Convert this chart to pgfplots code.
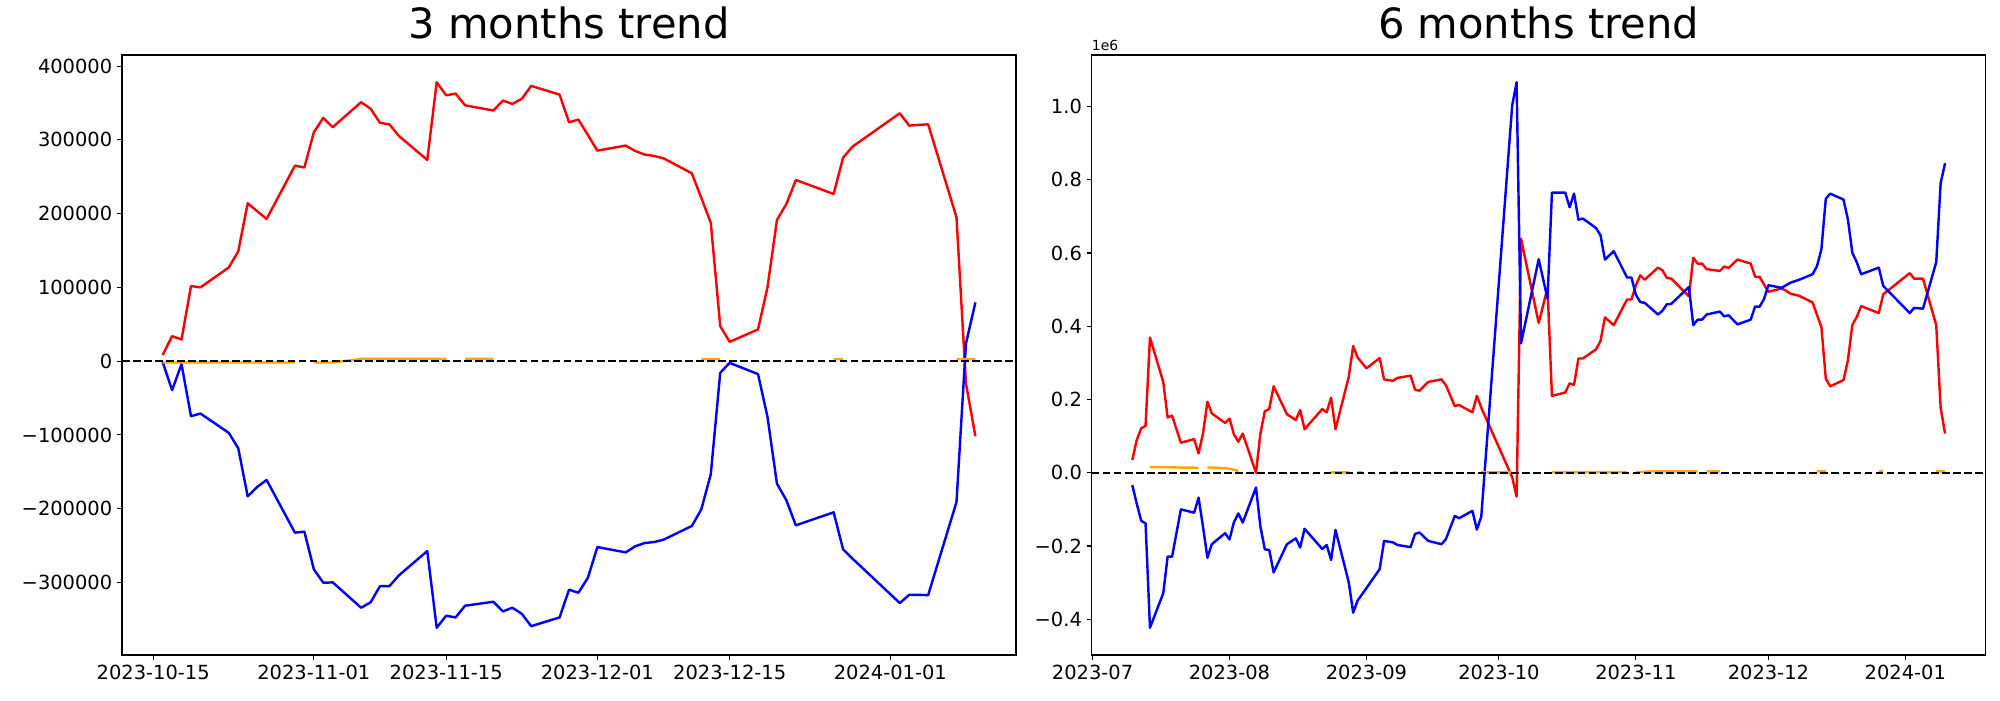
\documentclass[border=0pt]{standalone}
\usepackage{pgfplots}
\pgfplotsset{compat=1.18}
\usepackage{pgfplotstable}
\usepackage{fontspec}
\setmainfont{DejaVu Sans}

\pgfplotstableread{
d v
1 8100
2 33900
3 29400
4 101800
5 100000
8 127000
9 148800
10 214000
12 192700
15 265000
16 262500
17 310300
18 329700
19 317100
22 351000
23 342300
24 323000
25 321000
26 305300
29 272700
30 378000
31 360400
32 362700
33 346800
36 339700
37 353200
38 348700
39 355500
40 373100
43 361300
44 323900
45 327400
47 285400
50 292200
51 285000
52 280000
53 278200
54 275000
57 254600
59 187700
60 47500
61 26200
64 43000
65 100000
66 191300
67 213000
68 245600
72 226600
73 275800
74 290800
79 336000
80 319300
82 321100
85 195000
86 -30300
87 -101800
}\leftred

\pgfplotstableread{
d v
1 -1000
2 -39300
3 -4100
4 -74600
5 -71000
8 -97200
9 -118000
10 -183200
11 -170500
12 -161000
15 -232500
16 -231100
17 -282200
18 -300300
19 -299900
22 -334200
23 -327000
24 -304900
25 -304900
26 -290400
29 -257400
30 -361300
31 -345100
32 -347400
33 -331500
36 -326100
37 -339200
38 -334200
39 -342400
40 -359200
43 -347400
44 -309800
45 -313900
46 -293500
47 -252000
50 -259200
51 -251000
52 -246500
53 -245200
54 -242000
57 -223400
58 -200800
59 -153300
60 -15800
61 -2300
64 -17600
65 -75500
66 -166000
67 -188600
68 -222500
72 -204900
73 -255100
74 -267700
79 -327900
80 -316600
82 -317100
85 -190900
86 24000
87 79600
}\leftblue

\pgfplotstableread{
d v
1 -1800
2 -1800
3 -1800
4 -1800
5 -1800
8 -1800
9 -1800
10 -1800
11 -1800
12 -1800
15 -1800
16 nan
17 -1800
18 -1800
19 -1800
22 3000
23 3000
24 3000
25 3000
26 3000
29 3000
30 3000
31 3000
32 nan
33 3000
36 3000
37 nan
58 2700
59 2700
60 2700
61 nan
72 2700
73 2700
74 nan
85 2700
86 2700
87 2700
}\leftorange

\pgfplotstableread{
d v
9 0.035
10 0.089
11 0.121
12 0.128
13 0.369
16 0.248
17 0.151
18 0.156
20 0.082
23 0.092
24 0.053
25 0.107
26 0.194
27 0.162
30 0.136
31 0.148
32 0.105
33 0.085
34 0.107
37 0.000
38 0.107
39 0.168
40 0.174
41 0.236
44 0.160
46 0.144
47 0.171
48 0.119
52 0.174
53 0.165
54 0.205
55 0.119
58 0.262
59 0.346
60 0.315
62 0.285
65 0.313
66 0.255
68 0.251
69 0.259
72 0.265
73 0.227
74 0.224
76 0.248
79 0.255
80 0.239
82 0.182
83 0.185
86 0.165
87 0.210
88 0.178
95 -0.012
96 -0.065
97 0.639
101 0.409
103 0.505
104 0.210
107 0.219
108 0.244
109 0.240
110 0.312
111 0.312
114 0.337
115 0.360
116 0.424
118 0.403
121 0.473
122 0.473
123 0.512
124 0.539
125 0.527
128 0.560
129 0.553
130 0.532
131 0.530
135 0.482
136 0.587
137 0.571
138 0.571
139 0.556
142 0.551
143 0.563
144 0.559
146 0.582
149 0.571
150 0.535
151 0.535
152 0.514
153 0.494
156 0.503
157 0.497
158 0.489
160 0.483
163 0.465
165 0.398
166 0.257
167 0.236
170 0.253
171 0.307
172 0.403
173 0.425
174 0.455
178 0.436
179 0.487
185 0.545
186 0.530
188 0.530
191 0.403
192 0.177
193 0.107
}\rightred

\pgfplotstableread{
d v
9 -0.034
10 -0.084
11 -0.131
12 -0.138
13 -0.423
16 -0.329
17 -0.229
18 -0.229
20 -0.100
23 -0.109
24 -0.068
25 -0.147
26 -0.232
27 -0.195
30 -0.165
31 -0.182
32 -0.135
33 -0.111
34 -0.136
37 -0.040
38 -0.147
39 -0.209
40 -0.211
41 -0.272
44 -0.195
46 -0.179
47 -0.204
48 -0.153
52 -0.208
53 -0.197
54 -0.238
55 -0.156
58 -0.299
59 -0.382
60 -0.349
62 -0.315
65 -0.263
66 -0.186
68 -0.190
69 -0.197
72 -0.203
73 -0.167
74 -0.163
76 -0.186
79 -0.195
80 -0.181
82 -0.118
83 -0.124
86 -0.104
87 -0.155
88 -0.120
95 1.003
96 1.066
97 0.353
101 0.583
103 0.475
104 0.765
107 0.765
108 0.725
109 0.762
110 0.691
111 0.694
114 0.668
115 0.648
116 0.582
118 0.605
121 0.533
122 0.533
123 0.486
124 0.466
125 0.464
128 0.432
129 0.442
130 0.460
131 0.461
135 0.507
136 0.403
137 0.418
138 0.418
139 0.432
142 0.440
143 0.427
144 0.430
146 0.405
149 0.418
150 0.454
151 0.453
152 0.474
153 0.512
156 0.505
157 0.512
158 0.519
160 0.527
163 0.542
164 0.564
165 0.610
166 0.748
167 0.762
170 0.746
171 0.692
172 0.601
173 0.575
174 0.542
178 0.560
179 0.510
185 0.436
186 0.450
188 0.448
191 0.575
192 0.791
193 0.845
}\rightblue

\pgfplotstableread{
d v
13 0.0155
16 0.0152
17 0.015
18 0.015
19 0.0145
20 0.0142
23 0.0138
24 0.0136
25 nan
26 0.0145
27 0.014
30 0.0125
31 0.011
32 0.008
33 0.005
34 nan
54 0.001
55 0.001
58 0.001
59 nan
60 0.001
61 0.001
62 nan
68 0.001
69 0.001
72 nan
88 0.001
95 0.001
96 nan
104 0.002
107 0.002
108 0.002
109 0.002
110 0.002
111 0.002
114 0.002
115 0.002
116 0.002
118 0.002
121 0.002
122 nan
123 0.002
124 0.002
125 0.003
128 0.004
129 0.004
130 0.004
131 0.004
135 0.004
136 0.004
137 0.004
138 nan
139 0.004
142 0.004
143 nan
164 0.004
165 0.004
166 0.004
167 nan
178 0.004
179 0.004
180 nan
191 0.004
192 0.004
193 0.004
}\rightorange

\definecolor{mplorange}{RGB}{255,165,0}

\pgfplotsset{
  mystyle/.style={
    scale only axis,
    anchor=south west,
    width=643.7pt,
    height=432pt,
    axis line style={black, line width=0.8pt},
    tick style={black, line width=0.8pt},
    major tick length=3.5pt,
    tick align=outside,
    xtick pos=bottom,
    ytick pos=left,
    tick label style={font=\fontsize{14}{16}\selectfont},
    title style={font=\fontsize{30}{36}\selectfont, anchor=base, yshift=6pt},
    unbounded coords=jump,
    clip mode=individual,
  },
  dline/.style={line width=1.75pt, line join=round},
}

\begin{document}
\begin{tikzpicture}
\useasboundingbox (0,0) rectangle (1440pt,504pt);

\begin{axis}[mystyle,
  at={(87.84pt,32.4pt)},
  title={3 months trend},
  xmin=-3.3, xmax=91.3,
  ymin=-398300, ymax=415000,
  xtick={0,17,31,47,61,78},
  xticklabels={2023-10-15,2023-11-01,2023-11-15,2023-12-01,2023-12-15,2024-01-01},
  ytick={-300000,-200000,-100000,0,100000,200000,300000,400000},
  yticklabels={−300000,−200000,−100000,0,100000,200000,300000,400000},
  scaled y ticks=false,
]
\addplot[red, dline] table[x=d, y=v] {\leftred};
\addplot[blue, dline] table[x=d, y=v] {\leftblue};
\addplot[mplorange, dline] table[x=d, y=v] {\leftorange};
\addplot[black, line width=1.5pt, dash pattern=on 5.55pt off 2.4pt] coordinates {(-3.3,0) (91.3,0)};
\end{axis}

\begin{axis}[mystyle,
  at={(786pt,32.4pt)},
  title={6 months trend},
  xmin=-0.2, xmax=202.2,
  ymin=-0.4975, ymax=1.1405,
  xtick={0,31,62,92,123,153,184},
  xticklabels={2023-07,2023-08,2023-09,2023-10,2023-11,2023-12,2024-01},
  ytick={-0.4,-0.2,0,0.2,0.4,0.6,0.8,1.0},
  yticklabels={−0.4,−0.2,0.0,0.2,0.4,0.6,0.8,1.0},
  scaled y ticks=false,
]
\addplot[red, dline] table[x=d, y=v] {\rightred};
\addplot[blue, dline] table[x=d, y=v] {\rightblue};
\addplot[mplorange, dline] table[x=d, y=v] {\rightorange};
\addplot[black, line width=1.5pt, dash pattern=on 5.55pt off 2.4pt] coordinates {(-0.2,0) (202.2,0)};
\node[anchor=base west, font=\fontsize{10}{12}\selectfont, inner sep=0pt] at (rel axis cs:0,1) [yshift=3pt] {1e6};
\end{axis}
\end{tikzpicture}
\end{document}
